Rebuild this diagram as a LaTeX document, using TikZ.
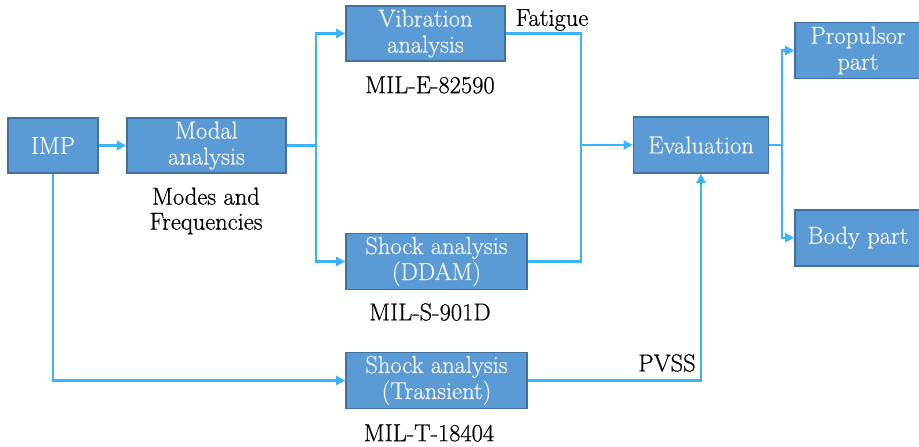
\documentclass[tikz,border=0pt]{standalone}
\usepackage{fontspec}
\newfontfamily\diagfont{Latin Modern Roman}[FakeBold=0.7]
\usetikzlibrary{arrows.meta}
\definecolor{boxfill}{HTML}{5B9BD5}
\definecolor{boxline}{HTML}{41719C}
\definecolor{wire}{HTML}{3BB3FF}
\definecolor{boxtext}{HTML}{F2F2F2}
\tikzset{
  block/.style={draw=boxline, line width=1.6pt, fill=boxfill, text=boxtext,
    inner sep=0pt, align=center, font=\diagfont\fontsize{24.5}{26}\selectfont},
  conn/.style={draw=wire, line width=2.4pt},
  arr/.style={conn, -{Triangle[length=9pt,width=9pt]}},
  note/.style={inner sep=0pt, align=center, text=black, font=\diagfont\fontsize{24.5}{25}\selectfont}
}
\begin{document}
\begin{tikzpicture}[x=1pt,y=-1pt]
\useasboundingbox (0,0) rectangle (919,447);
% blocks
\node[block, minimum width=90pt, minimum height=55pt] (imp) at (53,145.5) {IMP};
\node[block, minimum width=159pt, minimum height=55pt] (modal) at (206.5,145.5) {Modal\\analysis};
\node[block, minimum width=159pt, minimum height=55pt] (vib) at (425.5,33.5) {Vibration\\analysis};
\node[block, minimum width=181pt, minimum height=56pt] (ddam) at (436.5,261.5) {Shock analysis\\(DDAM)};
\node[block, minimum width=181pt, minimum height=56pt] (trans) at (436.5,380.5) {Shock analysis\\(Transient)};
\node[block, minimum width=135pt, minimum height=56pt] (eval) at (701,145) {Evaluation};
\node[block, minimum width=126pt, minimum height=56pt] (prop) at (858,50.5) {Propulsor\\part};
\node[block, minimum width=126pt, minimum height=56pt] (body) at (858,237.7) {Body part};
% junction points
\coordinate (j1) at (316,145.5);
\coordinate (j2) at (581,145);
\coordinate (j3) at (782,145);
% connectors
\draw[arr] (imp) -- (modal);
\draw[conn] (modal.east) -- (j1);
\draw[arr] (j1) |- (vib.west);
\draw[arr] (j1) |- (ddam.west);
\draw[conn] (vib.east) -| (j2) |- (ddam.east);
\draw[arr] (j2) -- (eval.west);
\draw[arr] (imp.south) |- (trans.west);
\draw[arr] (trans.east) -| (eval.south);
\draw[conn] (eval.east) -- (j3);
\draw[arr] (j3) |- (prop.west);
\draw[arr] (j3) |- (body.west);
% annotations
\node[note] (fat) at (552,20) {Fatigue};
\node[note] (mile) at (430,85) {MIL-E-82590};
\node[note] (modes) at (206,211) {Modes and\\Frequencies};
\node[note] (mils) at (430,312) {MIL-S-901D};
\node[note] (pvss) at (667,363) {PVSS};
\node[note] (milt) at (429,433) {MIL-T-18404};
\end{tikzpicture}
\end{document}
